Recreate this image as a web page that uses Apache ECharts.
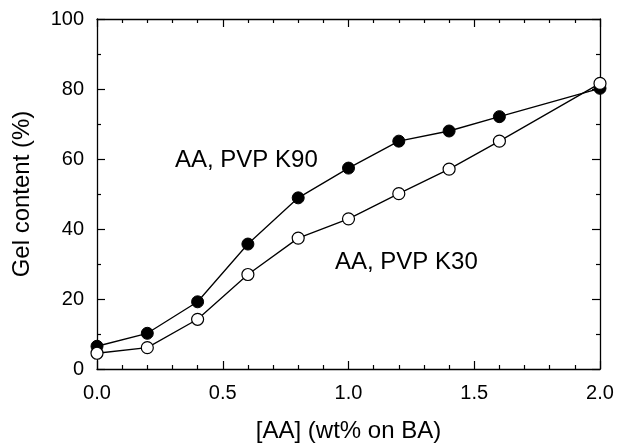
<!DOCTYPE html>
<html>
<head>
<meta charset="utf-8">
<script src="https://cdn.jsdelivr.net/npm/echarts@6/dist/echarts.min.js"></script>
<style>
html,body{margin:0;padding:0;background:#fff;}
#chart{width:617px;height:448px;}
</style>
</head>
<body>
<div id="chart"></div>
<script>
const xValues = [0.0, 0.2, 0.4, 0.6, 0.8, 1.0, 1.2, 1.4, 1.6, 2.0];
const k90 = [6.5, 10.2, 19.2, 35.7, 48.9, 57.4, 65.1, 68.0, 72.1, 80.2];
const k30 = [4.5, 6.1, 14.2, 27.0, 37.4, 42.9, 50.1, 57.1, 65.1, 81.6];
const xTitle = '[AA] (wt% on BA)';
const yTitle = 'Gel content (%)';
const label90 = 'AA, PVP K90';
const label30 = 'AA, PVP K30';

const FONT = "'Liberation Sans', Arial, Helvetica, sans-serif";
const chart = echarts.init(document.getElementById('chart'), null, {renderer: 'canvas'});

const axisCommon = {
  axisLine: {show: true, onZero: false, lineStyle: {color: '#000', width: 1.3}},
  axisTick: {show: true, inside: true, length: 8, lineStyle: {color: '#000', width: 1.2}},
  minorTick: {show: true, length: 4, lineStyle: {color: '#000', width: 1.2}},
  splitLine: {show: false}
};

function pairs(ys) { return xValues.map((x, i) => [x, ys[i]]); }

chart.setOption({
  animation: false,
  backgroundColor: '#fff',
  grid: {left: 97, right: 17, top: 19, bottom: 76, containLabel: false},
  xAxis: [
    Object.assign({
      type: 'value', min: 0, max: 2, interval: 0.5, position: 'bottom',
      name: xTitle, nameLocation: 'middle', nameGap: 50,
      nameTextStyle: {fontFamily: FONT, fontSize: 24, color: '#000'},
      axisLabel: {fontFamily: FONT, fontSize: 20, color: '#000', margin: 14,
        formatter: v => v.toFixed(1)}
    }, axisCommon, {minorTick: Object.assign({}, axisCommon.minorTick, {splitNumber: 5})}),
    Object.assign({
      type: 'value', min: 0, max: 2, interval: 0.5, position: 'top',
      axisLabel: {show: false}
    }, axisCommon, {minorTick: Object.assign({}, axisCommon.minorTick, {splitNumber: 5})})
  ],
  yAxis: [
    Object.assign({
      type: 'value', min: 0, max: 100, interval: 20, position: 'left',
      name: yTitle, nameLocation: 'middle', nameGap: 63,
      nameTextStyle: {fontFamily: FONT, fontSize: 24, color: '#000'},
      axisLabel: {fontFamily: FONT, fontSize: 20, color: '#000', margin: 13}
    }, axisCommon, {minorTick: Object.assign({}, axisCommon.minorTick, {splitNumber: 2})}),
    Object.assign({
      type: 'value', min: 0, max: 100, interval: 20, position: 'right',
      axisLabel: {show: false}
    }, axisCommon, {minorTick: Object.assign({}, axisCommon.minorTick, {splitNumber: 2})})
  ],
  series: [
    {
      name: label90, type: 'line', data: pairs(k90),
      symbol: 'circle', symbolSize: 12,
      lineStyle: {color: '#000', width: 1.3},
      itemStyle: {color: '#000', borderColor: '#000', borderWidth: 1},
      z: 2
    },
    {
      name: label30, type: 'line', data: pairs(k30),
      symbol: 'circle', symbolSize: 12,
      lineStyle: {color: '#000', width: 1.3},
      itemStyle: {color: '#fff', borderColor: '#000', borderWidth: 1.2},
      z: 3
    }
  ],
  graphic: [
    {type: 'text', left: 175, top: 148, style: {text: label90, font: '24px ' + FONT, fill: '#000'}},
    {type: 'text', left: 335, top: 250, style: {text: label30, font: '24px ' + FONT, fill: '#000'}}
  ]
});
</script>
</body>
</html>
